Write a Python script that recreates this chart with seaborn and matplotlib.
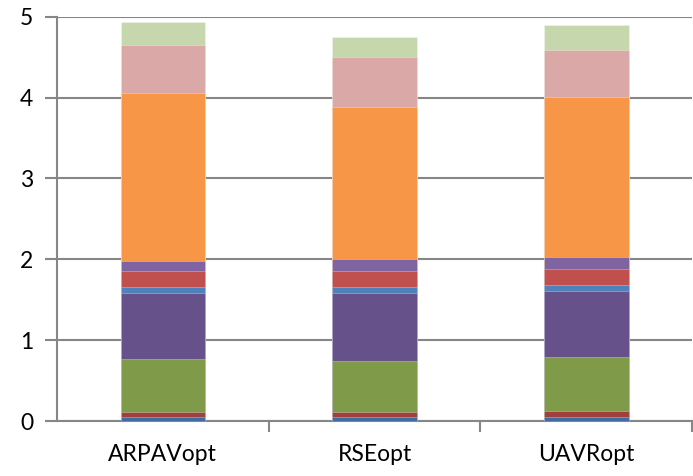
import numpy as np
import pandas as pd
import matplotlib
matplotlib.use("Agg")
import matplotlib.pyplot as plt
import seaborn as sns

# ======================
# DATA
# ======================
categories = ["ARPAVopt", "RSEopt", "UAVRopt"]

# stacked segments, bottom -> top
seg1 = [0.053, 0.053, 0.053]
seg2 = [0.062, 0.062, 0.074]
seg3 = [0.652, 0.631, 0.661]
seg4 = [0.821, 0.834, 0.825]
seg5 = [0.067, 0.075, 0.067]
seg6 = [0.201, 0.201, 0.197]
seg7 = [0.124, 0.144, 0.156]
seg8 = [2.076, 1.880, 1.973]
seg9 = [0.589, 0.616, 0.577]
seg10 = [0.285, 0.248, 0.309]

segments = [seg1, seg2, seg3, seg4, seg5, seg6, seg7, seg8, seg9, seg10]
colors = ["#3F6CA2", "#A0403D", "#7F9A48", "#67518A", "#4F81BD",
          "#C0504D", "#8064A2", "#F79646", "#D9A8A7", "#C6D6AD"]

yticks = [0, 1, 2, 3, 4, 5]

# ======================
# PLOT
# ======================
sns.set_style("white")
plt.rcParams['font.family'] = ['Lato', 'DejaVu Sans']

fig = plt.figure(figsize=(6.93, 4.76), dpi=100)
ax = fig.add_axes([0.0823, 0.1155, 0.9163, 0.8495])

tops = np.cumsum(np.array(segments), axis=0)

# draw from the top layer down so lower layers cover upper ones
for i in range(len(segments) - 1, -1, -1):
    df = pd.DataFrame({"cat": categories, "val": tops[i]})
    sns.barplot(data=df, x="cat", y="val", color=colors[i], width=0.4,
                saturation=1, ax=ax, edgecolor=(1, 1, 1, 0.35), linewidth=0.6,
                zorder=3)

ax.set_ylim(0, 5)
ax.set_xlim(-0.5, 2.5)
ax.set_yticks(yticks)
ax.set_xlabel("")
ax.set_ylabel("")

ax.yaxis.grid(True, color="#868686", linewidth=1.5, zorder=0)
ax.set_axisbelow(True)

for s in ["top", "right"]:
    ax.spines[s].set_visible(False)
for s in ["left", "bottom"]:
    ax.spines[s].set_color("#868686")
    ax.spines[s].set_linewidth(1.5)

# y ticks outward, x ticks between categories
ax.tick_params(axis="y", which="major", left=True, length=9, width=1.5,
               color="#868686", labelsize=16.5, labelcolor="black", pad=8)
ax.set_xticks([0, 1, 2])
ax.set_xticklabels(categories)
ax.tick_params(axis="x", which="major", bottom=False, labelsize=16.5,
               labelcolor="black", pad=13)
ax.set_xticks([0.5, 1.5, 2.5], minor=True)
ax.tick_params(axis="x", which="minor", bottom=True, length=8, width=1.5,
               color="#868686")

fig.savefig("out.png", dpi=100)
